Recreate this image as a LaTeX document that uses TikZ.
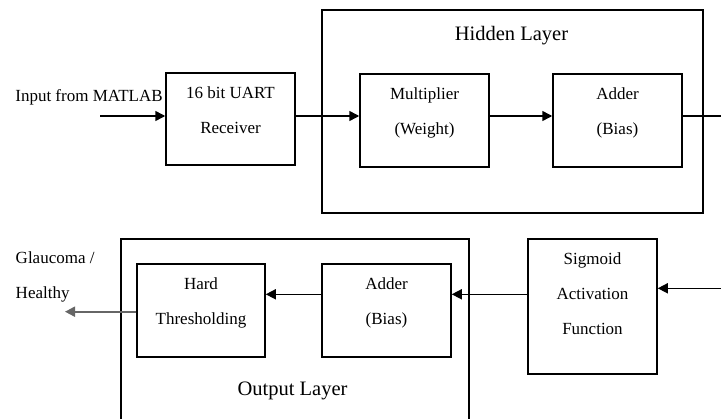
\documentclass[tikz,border=0pt]{standalone}
\usepackage{fontspec}
\setmainfont{Liberation Serif}
\usetikzlibrary{arrows.meta,positioning}
\begin{document}
\begin{tikzpicture}[x=1pt,y=-1pt,line width=1.5pt,>={Triangle[length=10pt,width=10pt]},
    blk/.style={draw,minimum width=129pt,minimum height=93pt,inner sep=0pt},
    txt/.style={align=center,inner sep=0pt,font=\fontsize{17}{35}\selectfont},
    ttl/.style={inner sep=0pt,font=\fontsize{20.5}{25}\selectfont}]
  \useasboundingbox (0,0) rectangle (721,419);
  % layers
  \node[draw,minimum width=381pt,minimum height=203pt,inner sep=0pt] (hidden) at (512.5,111.5) {};
  \node[ttl,anchor=base] (hiddenlbl) at (511.5,40.7) {Hidden Layer};
  \draw (121,425) |- (469,239) -- (469,425);
  \node[ttl,anchor=base] (outlbl) at (292.5,395.7) {Output Layer};
  % blocks
  \node[blk,minimum height=92pt] (uart) at (230.5,119) {};
  \node[txt,below=14pt of uart.north] {16 bit UART\\Receiver};
  \node[blk] (mult) at (424.5,120.5) {};
  \node[txt,below=14pt of mult.north] {Multiplier\\(Weight)};
  \node[blk] (adder) at (617.5,120.5) {};
  \node[txt,below=14pt of adder.north] {Adder\\(Bias)};
  \node[blk,minimum height=135pt] (sig) at (592.5,306.5) {};
  \node[txt,below=14pt of sig.north] {Sigmoid\\Activation\\Function};
  \node[blk] (adder2) at (386.5,310.5) {};
  \node[txt,below=14pt of adder2.north] {Adder\\(Bias)};
  \node[blk,minimum width=128pt] (hard) at (201,310.5) {};
  \node[txt,below=14pt of hard.north] {Hard\\Thresholding};
  % labels
  \node[txt,anchor=base] (inlbl) at (89,101.7) {Input from MATLAB};
  \node[txt,align=left,anchor=north west] (outtxt) at (15,251) {Glaucoma /\\Healthy};
  % connectors
  \coordinate (row1) at (0,116);
  \coordinate (row2) at (0,294.3);
  \coordinate (inp) at (100,116);
  \coordinate (hout) at (721,116);
  \coordinate (sigin) at (721,288.3);
  \coordinate (res) at (65,311.7);
  \draw[->] (inp) -- (inp -| uart.west);
  \draw[->] (uart.east |- row1) -- (mult.west |- row1);
  \draw[->] (mult.east |- row1) -- (adder.west |- row1);
  \draw (adder.east |- row1) -- (hout);
  \draw[->] (sigin) -- (sigin -| sig.east);
  \draw[->] (sig.west |- row2) -- (adder2.east |- row2);
  \draw[->] (adder2.west |- row2) -- (hard.east |- row2);
  \draw[->,gray!80!black,line width=2pt] (hard.west |- res) -- (res);
\end{tikzpicture}
\end{document}
